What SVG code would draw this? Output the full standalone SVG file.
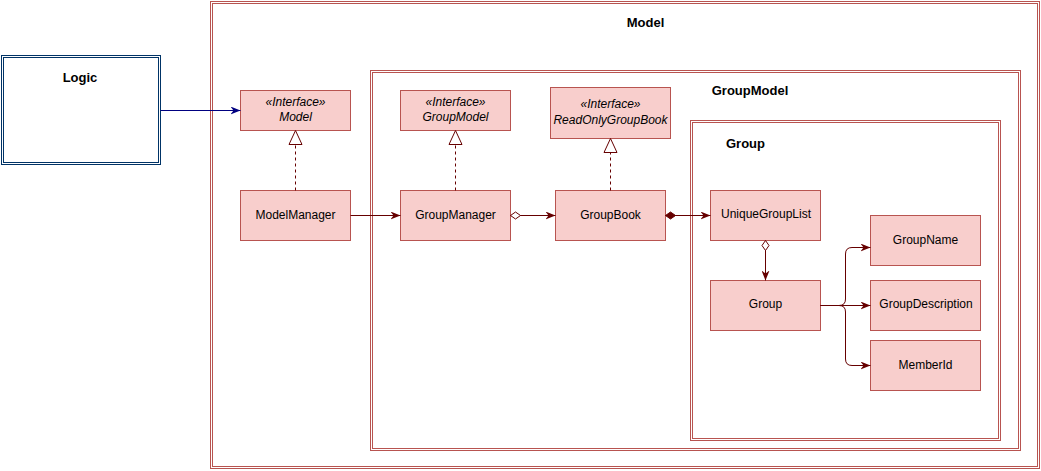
<svg xmlns="http://www.w3.org/2000/svg" width="1041" height="471" viewBox="0 0 1041 471">
<style>
  .cont { fill: none; stroke: #b85450; stroke-width: 1; }
  .node { fill: #f8cecc; stroke: #b85450; stroke-width: 1; }
  .lbl { font-family: "Liberation Sans", Arial, sans-serif; font-size: 12px; fill: #000; text-anchor: middle; }
  .ital { font-style: italic; }
  .title { font-family: "Liberation Sans", Arial, sans-serif; font-size: 13px; font-weight: bold; fill: #000; text-anchor: middle; }
  .conn { fill: none; stroke: #660000; stroke-width: 1; }
  .dash { stroke-dasharray: 3 3; }
  .tri { fill: #fff; stroke: #660000; stroke-width: 1; }
</style>
<defs>
  <marker id="arr" viewBox="0 0 10 8" refX="10" refY="4" markerWidth="10" markerHeight="8" markerUnits="userSpaceOnUse" orient="auto">
    <path d="M0,0 L10,4 L0,8 L3,4 Z" fill="#660000"/>
  </marker>
  <marker id="arrNavy" viewBox="0 0 10 8" refX="10" refY="4" markerWidth="10" markerHeight="8" markerUnits="userSpaceOnUse" orient="auto">
    <path d="M0,0 L10,4 L0,8 L3,4 Z" fill="#000080"/>
  </marker>
  <marker id="diaOpen" viewBox="-1 -5 13 10" refX="0" refY="0" markerWidth="13" markerHeight="10" markerUnits="userSpaceOnUse" orient="auto">
    <path d="M0,0 L5,-3.5 L10,0 L5,3.5 Z" fill="#fff" stroke="#660000" stroke-width="1"/>
  </marker>
  <marker id="diaFill" viewBox="-1 -5 13 10" refX="0" refY="0" markerWidth="13" markerHeight="10" markerUnits="userSpaceOnUse" orient="auto">
    <path d="M0,0 L5,-3.5 L10,0 L5,3.5 Z" fill="#660000" stroke="#660000" stroke-width="1"/>
  </marker>
</defs>

<g id="model-container">
  <rect class="cont" x="210.5" y="1.5" width="829" height="467"/>
  <rect class="cont" x="212.5" y="3.5" width="825" height="463"/>
  <text class="title" x="645.5" y="27">Model</text>
</g>

<g id="groupmodel-container">
  <rect class="cont" x="370.5" y="70.5" width="650" height="380"/>
  <rect class="cont" x="372.5" y="72.5" width="646" height="376"/>
  <text class="title" x="750" y="95">GroupModel</text>
</g>

<g id="group-container">
  <rect class="cont" x="690.5" y="120.5" width="310" height="320"/>
  <rect class="cont" x="692.5" y="122.5" width="306" height="316"/>
  <text class="title" x="745.5" y="147.5">Group</text>
</g>

<g id="logic">
  <rect x="1.5" y="55.5" width="159" height="109" fill="#fff" stroke="#003366"/>
  <rect x="3.5" y="57.5" width="155" height="105" fill="none" stroke="#003366"/>
  <text class="title" x="80" y="81.5">Logic</text>
</g>

<g id="model-interface">
  <rect class="node" x="240.5" y="90.5" width="110" height="40"/>
  <text class="lbl ital" x="295.5" y="106">«Interface»</text>
  <text class="lbl ital" x="295.5" y="121">Model</text>
</g>

<g id="modelmanager">
  <rect class="node" x="240.5" y="190.5" width="110" height="50"/>
  <text class="lbl" x="295.5" y="218.5">ModelManager</text>
</g>

<g id="groupmodel-interface">
  <rect class="node" x="400.5" y="90.5" width="110" height="40"/>
  <text class="lbl ital" x="455.5" y="106">«Interface»</text>
  <text class="lbl ital" x="455.5" y="121">GroupModel</text>
</g>

<g id="groupmanager">
  <rect class="node" x="400.5" y="190.5" width="110" height="50"/>
  <text class="lbl" x="455.5" y="218.5">GroupManager</text>
</g>

<g id="readonlygroupbook-interface">
  <rect class="node" x="550.5" y="87.5" width="120" height="51"/>
  <text class="lbl ital" x="610.5" y="108">«Interface»</text>
  <text class="lbl ital" x="610.5" y="123.5">ReadOnlyGroupBook</text>
</g>

<g id="groupbook">
  <rect class="node" x="555.5" y="190.5" width="110" height="50"/>
  <text class="lbl" x="610.5" y="218.5">GroupBook</text>
</g>

<g id="uniquegrouplist">
  <rect class="node" x="710.5" y="190.5" width="110" height="50"/>
  <text class="lbl" x="766" y="218">UniqueGroupList</text>
</g>

<g id="group">
  <rect class="node" x="710.5" y="280.5" width="110" height="50"/>
  <text class="lbl" x="765.5" y="308">Group</text>
</g>

<g id="groupname">
  <rect class="node" x="870.5" y="215.5" width="110" height="50"/>
  <text class="lbl" x="925.5" y="243.5">GroupName</text>
</g>

<g id="groupdescription">
  <rect class="node" x="870.5" y="280.5" width="110" height="50"/>
  <text class="lbl" x="926" y="308">GroupDescription</text>
</g>

<g id="memberid">
  <rect class="node" x="870.5" y="340.5" width="110" height="50"/>
  <text class="lbl" x="925.5" y="368.5">MemberId</text>
</g>

<g id="connectors">
  <line x1="160.5" y1="110.5" x2="240.5" y2="110.5" stroke="#000080" stroke-width="1" marker-end="url(#arrNavy)"/>

  <line class="conn dash" x1="295.5" y1="190.5" x2="295.5" y2="144.5"/>
  <polygon class="tri" points="295.5,130.5 289,144.5 302,144.5"/>

  <line class="conn dash" x1="455.5" y1="190.5" x2="455.5" y2="144.5"/>
  <polygon class="tri" points="455.5,130.5 449,144.5 462,144.5"/>

  <line class="conn dash" x1="610.5" y1="190.5" x2="610.5" y2="152.5"/>
  <polygon class="tri" points="610.5,138.5 604,152.5 617,152.5"/>

  <line class="conn" x1="350.5" y1="215.5" x2="400.5" y2="215.5" marker-end="url(#arr)"/>
  <line class="conn" x1="510.5" y1="215.5" x2="555.5" y2="215.5" marker-start="url(#diaOpen)" marker-end="url(#arr)"/>
  <line class="conn" x1="665.5" y1="215.5" x2="710.5" y2="215.5" marker-start="url(#diaFill)" marker-end="url(#arr)"/>
  <line class="conn" x1="765.5" y1="240.5" x2="765.5" y2="280.5" marker-start="url(#diaOpen)" marker-end="url(#arr)"/>

  <path class="conn" d="M820.5,305.5 H839 Q845.5,305.5 845.5,299 V254 Q845.5,247.5 852,247.5 H870.5" marker-end="url(#arr)"/>
  <path class="conn" d="M820.5,305.5 H870.5" marker-end="url(#arr)"/>
  <path class="conn" d="M820.5,305.5 H839 Q845.5,305.5 845.5,312 V359 Q845.5,365.5 852,365.5 H870.5" marker-end="url(#arr)"/>
</g>
</svg>
